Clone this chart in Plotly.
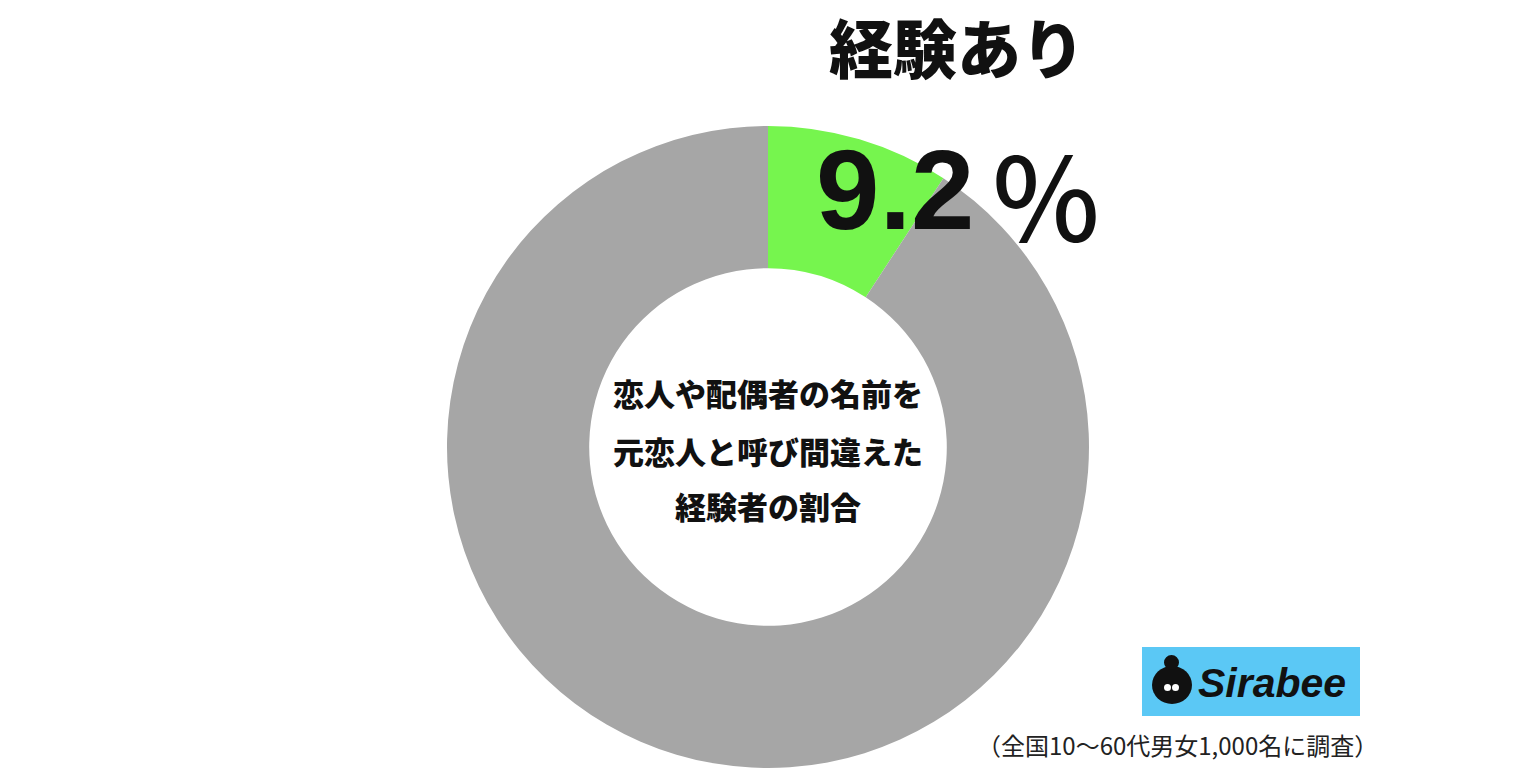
import plotly.graph_objects as go

labels = ["経験あり", "経験なし"]
values = [9.2, 90.8]
colors = ["#76F54E", "#A6A6A6"]
title_text = "経験あり"
pct_num = "9.2"
pct_sign = "％"
center_lines = ["恋人や配偶者の名前を", "元恋人と呼び間違えた", "経験者の割合"]
note_text = "（全国10〜60代男女1,000名に調査）"
brand = "Sirabee"

W, H = 1536, 784
cx, cy, R = 768, 447, 321

fig = go.Figure(go.Pie(
    labels=labels, values=values, sort=False, direction="clockwise", rotation=0,
    hole=0.557, marker=dict(colors=colors, line=dict(width=0)),
    textinfo="none", hoverinfo="label+percent", showlegend=False,
    domain=dict(x=[(cx - R) / W, (cx + R) / W], y=[1 - (cy + R) / H, 1 - (cy - R) / H]),
))

JP = "Noto Sans CJK JP"
ann = []
ann.append(dict(x=957 / W, y=1 - 45 / H, text=title_text, showarrow=False,
                font=dict(family=JP, size=64, color="#111", weight=900), xanchor="center", yanchor="middle"))
ann.append(dict(x=895 / W, y=1 - 190 / H, text=pct_num, showarrow=False,
                font=dict(family="Liberation Sans", size=114, color="#111", weight=700), xanchor="center", yanchor="middle"))
ann.append(dict(x=1046 / W, y=1 - 192 / H, text=pct_sign, showarrow=False,
                font=dict(family=JP, size=114, color="#111", weight=500), xanchor="center", yanchor="middle"))
for line, yy in zip(center_lines, [392, 450, 505]):
    ann.append(dict(x=cx / W, y=1 - yy / H, text=line, showarrow=False,
                    font=dict(family=JP, size=31, color="#111", weight=900), xanchor="center", yanchor="middle"))
ann.append(dict(x=1272 / W, y=1 - 683 / H, text="<i>" + brand + "</i>", showarrow=False,
                font=dict(family="Liberation Sans", size=41, color="#111", weight=700), xanchor="center", yanchor="middle"))
ann.append(dict(x=1177 / W, y=1 - 744 / H, text=note_text, showarrow=False,
                font=dict(family=JP, size=24, color="#222"), xanchor="center", yanchor="middle"))

shapes = [
    dict(type="rect", xref="paper", yref="paper", x0=1142 / W, x1=1360 / W, y0=1 - 716 / H, y1=1 - 647 / H,
         fillcolor="#5BC8F5", line=dict(width=0), layer="below"),
    dict(type="circle", xref="paper", yref="paper", x0=1152 / W, x1=1192 / W, y0=1 - 704 / H, y1=1 - 666 / H,
         fillcolor="#111", line=dict(width=0)),
    dict(type="circle", xref="paper", yref="paper", x0=1164 / W, x1=1179 / W, y0=1 - 670 / H, y1=1 - 655 / H,
         fillcolor="#111", line=dict(width=0)),
    dict(type="circle", xref="paper", yref="paper", x0=1164 / W, x1=1171 / W, y0=1 - 691 / H, y1=1 - 684 / H,
         fillcolor="white", line=dict(width=0)),
    dict(type="circle", xref="paper", yref="paper", x0=1172 / W, x1=1179 / W, y0=1 - 691 / H, y1=1 - 684 / H,
         fillcolor="white", line=dict(width=0)),
]

fig.update_layout(width=W, height=H, margin=dict(l=0, r=0, t=0, b=0),
                  paper_bgcolor="white", plot_bgcolor="white",
                  annotations=ann, shapes=shapes)
fig.write_html("out.html", config={"displayModeBar": False},
               post_script="document.body.style.margin='0';document.body.style.overflow='hidden';")
